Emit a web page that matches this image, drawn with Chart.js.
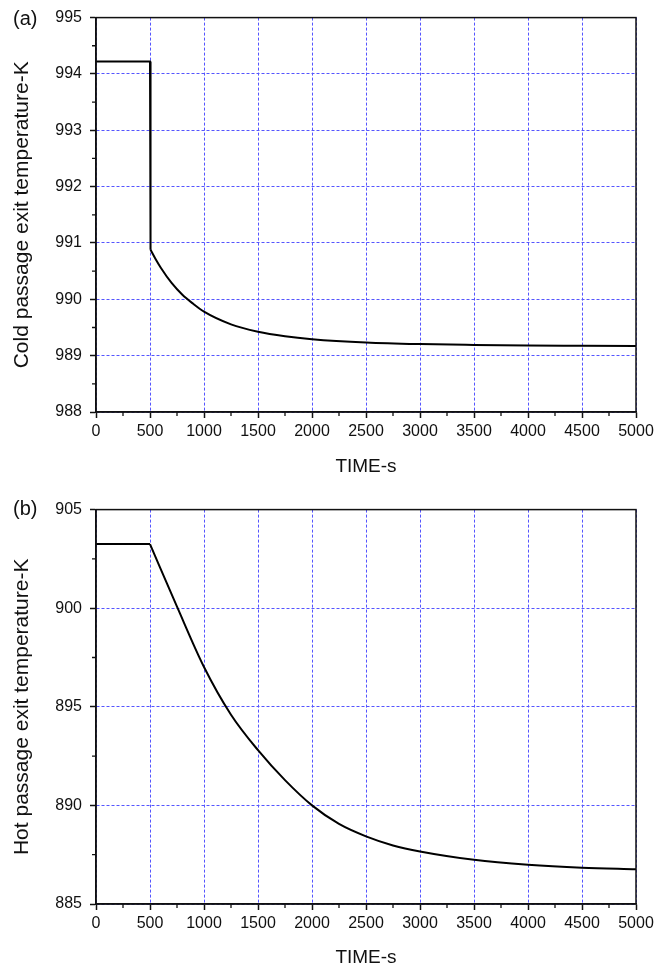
<!DOCTYPE html>
<html>
<head>
<meta charset="utf-8">
<script src="https://cdn.jsdelivr.net/npm/chart.js@4/dist/chart.umd.min.js"></script>
<style>
  html, body { margin: 0; padding: 0; background: #fff; }
  body { width: 667px; height: 966px; position: relative; overflow: hidden; font-family: "Liberation Sans", Arial, sans-serif; }
  .panel { position: absolute; left: 0; width: 667px; }
  .tag { position: absolute; left: 13px; font-size: 20px; line-height: 23px; color: #111; font-family: "Liberation Sans", Arial, sans-serif; }
</style>
</head>
<body>
<div class="panel" style="top:0;height:492px;"><canvas id="chartA" width="667" height="492"></canvas></div>
<div class="panel" style="top:492px;height:474px;"><canvas id="chartB" width="667" height="474"></canvas></div>
<div class="tag" style="top:7px;">(a)</div>
<div class="tag" style="top:497px;">(b)</div>
<script>
// ---- data ----
const xTicks = [0, 500, 1000, 1500, 2000, 2500, 3000, 3500, 4000, 4500, 5000];
const yTicksA = [988, 989, 990, 991, 992, 993, 994, 995];
const yTicksB = [885, 890, 895, 900, 905];

// (a) cold passage exit temperature
const coldTime = [0, 500, 505, 550, 600, 700, 800, 900, 1000, 1250, 1500, 1750, 2000, 2500, 3000, 3500, 4000, 4500, 5000];
const coldTemp = [994.22, 994.22, 990.88, 990.72, 990.56, 990.29, 990.08, 989.92, 989.78, 989.555, 989.425, 989.345, 989.293, 989.234, 989.205, 989.19, 989.18, 989.175, 989.17];
const coldBreak = 2; // index where the smooth decay starts

// (b) hot passage exit temperature
const hotTime = [0, 500, 750, 1000, 1250, 1500, 1750, 2000, 2250, 2500, 2750, 3000, 3500, 4000, 4500, 5000];
const hotTemp = [903.25, 903.25, 900.08, 897.02, 894.6, 892.8, 891.28, 890.0, 889.06, 888.43, 887.97, 887.66, 887.24, 886.99, 886.84, 886.76];
const hotBreak = 1;

const FONT = "'Liberation Sans', Arial, sans-serif";
const GRID = 'rgb(85,85,255)';

function pts(t, v) { return t.map((x, i) => ({ x: x, y: v[i] })); }

const framePlugin = {
  id: 'frame',
  afterDraw(chart, args, opts) {
    const { ctx, chartArea: { left, right, top, bottom }, scales: { x, y } } = chart;
    ctx.save();
    ctx.setLineDash([]);
    ctx.strokeStyle = '#111';
    ctx.lineWidth = 1.5;
    ctx.strokeRect(left, top, right - left, bottom - top);
    ctx.lineWidth = 1.3;
    ctx.beginPath();
    const xt = opts.xTicks, yt = opts.yTicks;
    for (let i = 0; i < xt.length - 1; i++) {
      const px = x.getPixelForValue((xt[i] + xt[i + 1]) / 2);
      ctx.moveTo(px, bottom); ctx.lineTo(px, bottom + 4);
    }
    for (let i = 0; i < yt.length - 1; i++) {
      const py = y.getPixelForValue((yt[i] + yt[i + 1]) / 2);
      ctx.moveTo(left, py); ctx.lineTo(left - 4, py);
    }
    ctx.stroke();
    ctx.restore();
  }
};

function makeChart(id, time, temp, brk, yTicks, yTitle, xAxisHeight, xTitlePadBottom) {
  const ctx = document.getElementById(id);
  const lineStyle = { borderColor: '#000', borderWidth: 2, pointRadius: 0, fill: false };
  const gridOpts = { color: GRID, lineWidth: 1, drawTicks: true, tickLength: 6, tickColor: '#111', tickWidth: 1.5, tickBorderDash: [] };
  return new Chart(ctx, {
    type: 'line',
    data: {
      datasets: [
        Object.assign({ data: pts(time.slice(0, brk + 1), temp.slice(0, brk + 1)), tension: 0 }, lineStyle),
        Object.assign({ data: pts(time.slice(brk), temp.slice(brk)), cubicInterpolationMode: 'monotone' }, lineStyle)
      ]
    },
    options: {
      responsive: false,
      animation: false,
      devicePixelRatio: 1,
      layout: { padding: { top: 15, right: 31, left: 0, bottom: 0 } },
      plugins: {
        legend: { display: false },
        tooltip: { enabled: false },
        frame: { xTicks: xTicks, yTicks: yTicks }
      },
      scales: {
        x: {
          type: 'linear',
          min: xTicks[0], max: xTicks[xTicks.length - 1],
          afterBuildTicks(scale) { scale.ticks = xTicks.map(v => ({ value: v })); },
          afterFit(scale) { scale.height = xAxisHeight; },
          ticks: { autoSkip: false, maxRotation: 0, padding: 4, color: '#111', font: { family: FONT, size: 16 }, callback: v => String(v) },
          grid: gridOpts,
          border: { display: true, color: '#111', width: 1.5, dash: [3, 2] },
          title: { display: true, text: 'TIME-s', color: '#111', font: { family: FONT, size: 19 }, padding: { top: 0, bottom: xTitlePadBottom } }
        },
        y: {
          type: 'linear',
          min: yTicks[0], max: yTicks[yTicks.length - 1],
          afterBuildTicks(scale) { scale.ticks = yTicks.map(v => ({ value: v })); },
          afterFit(scale) { scale.width = 96; },
          ticks: { padding: 8, color: '#111', font: { family: FONT, size: 16 }, callback: v => String(v) },
          grid: gridOpts,
          border: { display: true, color: '#111', width: 1.5, dash: [3, 2] },
          title: { display: true, text: yTitle, color: '#111', font: { family: FONT, size: 21 }, padding: { top: 10, bottom: 0 } }
        }
      }
    },
    plugins: [framePlugin]
  });
}

makeChart('chartA', coldTime, coldTemp, coldBreak, yTicksA, 'Cold passage exit temperature-K', 80, 14);
makeChart('chartB', hotTime, hotTemp, hotBreak, yTicksB, 'Hot passage exit temperature-K', 62, -3);
</script>
</body>
</html>
